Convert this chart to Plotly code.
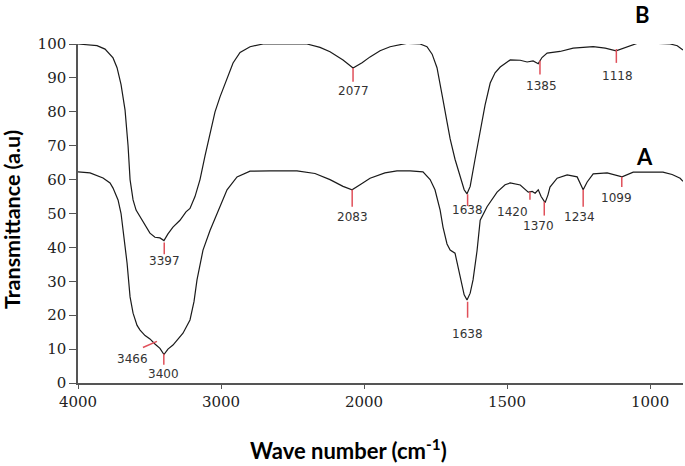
import numpy as np
import plotly.graph_objects as go

# ---- data (wavenumber cm-1, transmittance a.u.) ----
wn_B = [4000, 3916, 3867, 3811, 3755, 3727, 3699, 3671, 3650, 3636, 3615, 3594, 3566, 3531, 3497,
        3462, 3427, 3399, 3371, 3336, 3287, 3245, 3217, 3182, 3147, 3112, 3077, 3042, 3007, 2965,
        2916, 2867, 2797, 2706, 2587, 2399, 2308, 2238, 2147, 2077, 2014, 1979, 1944, 1909, 1850,
        1804, 1780, 1762, 1745, 1734, 1724, 1710, 1699, 1682, 1664, 1650, 1640, 1629, 1612, 1594,
        1577, 1559, 1542, 1524, 1489, 1454, 1430, 1409, 1391, 1378, 1360, 1315, 1269, 1199, 1157,
        1119, 1087, 1045, 1000, 930, 905, 885]
T_B = [100, 99.6, 99.5, 98.5, 95.9, 93, 88, 80.5, 70, 60, 54, 51, 49, 46.5, 44.2,
       43, 42.8, 42, 44, 46, 48, 50.5, 51.5, 55, 60, 67, 73.7, 80, 84.4, 89,
       94.4, 97.5, 99.2, 100, 100, 100, 99, 97.7, 95.3, 92.9, 94.5, 96.2, 98, 99.2, 100.2,
       100, 99.2, 97, 93, 88.5, 83.5, 77, 72, 66, 60.8, 57, 55.8, 58, 66, 73.7,
       82, 88.5, 91.5, 93.2, 95.3, 95.2, 94.7, 95, 94.2, 96, 97.3, 97.8, 98.8, 99.2, 98.8,
       98, 99, 100.2, 100.3, 100, 99.5, 98.2]

wn_A = [4000, 3916, 3825, 3776, 3755, 3720, 3699, 3685, 3657, 3636, 3615, 3587, 3566, 3531, 3497,
        3462, 3427, 3399, 3371, 3336, 3301, 3266, 3217, 3189, 3168, 3126, 3077, 3028, 2958, 2888,
        2797, 2657, 2469, 2343, 2238, 2147, 2084, 2028, 1979, 1927, 1885, 1839, 1794, 1769, 1752,
        1734, 1724, 1710, 1699, 1682, 1664, 1650, 1640, 1629, 1619, 1605, 1594, 1570, 1535, 1507,
        1489, 1454, 1426, 1412, 1402, 1391, 1381, 1367, 1357, 1350, 1325, 1290, 1255, 1245, 1234,
        1220, 1199, 1150, 1122, 1098, 1059, 955, 923, 895, 885]
T_A = [62.3, 62, 60.5, 59, 57.5, 54, 50, 45, 35.4, 25.4, 20.6, 17, 15.6, 14, 13,
       11.5, 10.2, 8.4, 10, 11.2, 13, 14.7, 18.6, 24, 30.4, 39.2, 45, 50, 57, 60.8,
       62.5, 62.6, 62.6, 61.8, 60, 58, 57, 58.5, 60.4, 62, 62.6, 62.6, 62.3, 60, 57,
       51, 46, 41, 39.2, 38.3, 31.3, 26, 24.5, 26.5, 30.4, 39, 48, 52, 56.3, 58.5,
       59, 58.4, 56.3, 56.5, 56, 57, 55, 53.2, 55.5, 57.8, 60.4, 61.4, 60.8, 59, 57,
       59.3, 61.7, 62, 61.4, 60.8, 62.2, 62.2, 61.5, 60.4, 59.5]

peaks_B = [3397, 2077, 1638, 1385, 1118]
peaks_A = [3466, 3400, 2083, 1638, 1420, 1370, 1234, 1099]

x_ticks = [4000, 3000, 2000, 1500, 1000]
y_ticks = list(range(0, 101, 10))

# ---- axis with scale change at 2000 cm-1 ----
def u(w):
    w = np.asarray(w, dtype=float)
    return np.where(w >= 2000, (4000 - w) / 2.0, 3000 - w)

# marker geometry (tick top/bottom offsets below curve, label offset, label x shift)
geom = {
    ("B", 3397): (0.7, 4.2, 6.3, 0), ("B", 2077): (0.0, 4.0, 6.8, 0),
    ("B", 1638): (0.5, 4.0, 5.3, 0), ("B", 1385): (0.0, 4.0, 7.5, -6),
    ("B", 1118): (-0.5, 3.6, 7.4, -4),
    ("A", 3400): (-0.2, 3.1, 5.7, 0), ("A", 2083): (0.0, 5.0, 8.0, 0),
    ("A", 1638): (0.9, 5.6, 10.3, 0), ("A", 1420): (0.0, 2.3, 5.9, 62),
    ("A", 1370): (0.1, 4.2, 7.2, 21), ("A", 1234): (0.0, 5.0, 8.0, 14),
    ("A", 1099): (0.0, 3.0, 6.2, 19),
}

RED = "#e0505a"
LAB_FONT = dict(family="DejaVu Sans", size=12, color="#333333")

fig = go.Figure()
for name, wn, T in (("B", wn_B, T_B), ("A", wn_A, T_A)):
    fig.add_trace(go.Scatter(x=u(wn), y=T, mode="lines", line=dict(color="#1a1a1a", width=1.2),
                             showlegend=False, hoverinfo="skip"))

segx, segy = [], []
annots = []
for name, wn, T, peaks in (("B", wn_B, T_B, peaks_B), ("A", wn_A, T_A, peaks_A)):
    wr = np.array(wn[::-1], dtype=float)
    tr = np.array(T[::-1], dtype=float)
    for p in peaks:
        tv = float(np.interp(p, wr, tr))
        if (name, p) in geom:
            a, b, c, dx = geom[(name, p)]
            segx += [float(u(p)), float(u(p)), None]
            segy += [tv - a, tv - b, None]
            annots.append(dict(x=float(u(p + dx)), y=tv - c, text=str(p), showarrow=False,
                               xref="x", yref="y", xanchor="center", yanchor="middle", font=LAB_FONT))
        else:
            # shoulder label with slanted leader line
            segx += [float(u(p - 18)), float(u(p + 80)), None]
            segy += [tv + 0.6, tv - 1.2, None]
            annots.append(dict(x=float(u(p + 150)), y=tv - 4.5, text=str(p), showarrow=False,
                               xref="x", yref="y", xanchor="center", yanchor="middle", font=LAB_FONT))

fig.add_trace(go.Scatter(x=segx, y=segy, mode="lines", line=dict(color=RED, width=1.5),
                         showlegend=False, hoverinfo="skip"))

W, H = 685, 466
ml, mr, mt, mb = 78, 2, 44, 83
pw, ph = W - ml - mr, H - mt - mb

def px(x, y):
    return (x - ml) / pw, (H - mb - y) / ph

for txt, (cx, cy) in (("B", (642, 14)), ("A", (644, 156))):
    X, Y = px(cx, cy)
    annots.append(dict(x=X, y=Y, xref="paper", yref="paper", xanchor="center", yanchor="middle",
                       text="<b>%s</b>" % txt, showarrow=False,
                       font=dict(family="Lato", size=22, color="#000")))

X, Y = px(12, 220)
annots.append(dict(x=X, y=Y, xref="paper", yref="paper", xanchor="center", yanchor="middle",
                   text="<b>Transmittance (a.u)</b>", textangle=-90, showarrow=False,
                   font=dict(family="Lato", size=21.5, color="#000")))
X, Y = px(348, 449)
annots.append(dict(x=X, y=Y, xref="paper", yref="paper", xanchor="center", yanchor="middle",
                   text="<b>Wave number (cm<sup>-1</sup>)</b>", showarrow=False,
                   font=dict(family="Lato", size=22, color="#000")))

TICK_FONT = dict(family="DejaVu Serif", size=15, color="#222222")
fig.update_layout(
    width=W, height=H, margin=dict(l=ml, r=mr, t=mt, b=mb, autoexpand=False),
    paper_bgcolor="white", plot_bgcolor="white",
    annotations=annots,
    xaxis=dict(range=[0, float(u(885))], tickvals=u(x_ticks).tolist(), ticktext=[str(t) for t in x_ticks],
               showgrid=False, zeroline=False, showline=True, linecolor="#555", linewidth=1.5,
               ticks="outside", ticklen=4, tickcolor="#555", tickfont=TICK_FONT, automargin=False),
    yaxis=dict(range=[0, 100], tickvals=y_ticks, showgrid=False, zeroline=False, showline=True,
               linecolor="#555", linewidth=1.5, ticks="outside", ticklen=7, tickcolor="#555",
               tickfont=TICK_FONT, automargin=False),
)
fig.write_html("out.html", config={"displayModeBar": False},
               post_script="document.body.style.margin='0';")
